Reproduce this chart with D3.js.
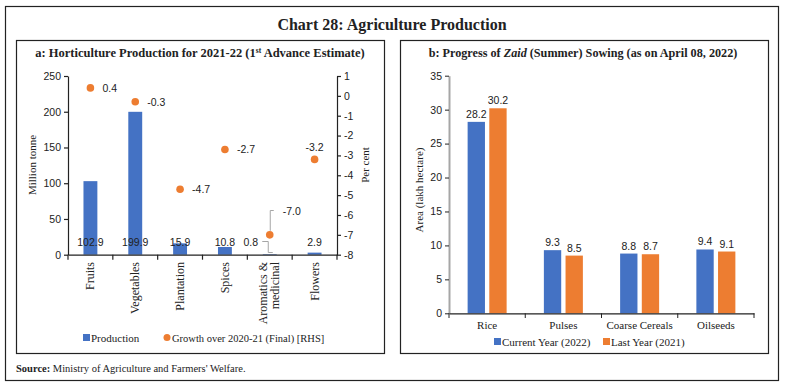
<!doctype html>
<html>
  <head>
    <script src="https://d3js.org/d3.v7.min.js" charset="utf-8"></script>
    <style>
      body { margin: 0; background: #fff; }
      text { fill: #222; }
    </style>
  </head>
  <body>
    <script>

// panel a data
var hortiCats = ["Fruits", "Vegetables", "Plantation", "Spices", "Aromatics &\nmedicinal", "Flowers"];
var production = [102.9, 199.9, 15.9, 10.8, 0.8, 2.9];
var growth = [0.4, -0.3, -4.7, -2.7, -7.0, -3.2];
var leftTicks = [0, 50, 100, 150, 200, 250];
var rightTicks = [1, 0, -1, -2, -3, -4, -5, -6, -7, -8];

// panel b data
var sowCats = ["Rice", "Pulses", "Coarse Cereals", "Oilseeds"];
var sowSeries = ["Current Year (2022)", "Last Year (2021)"];
var currentYear = [28.2, 9.3, 8.8, 9.4];
var lastYear = [30.2, 8.5, 8.7, 9.1];
var areaTicks = [0, 5, 10, 15, 20, 25, 30, 35];

var blue = "#4472C4", orange = "#ED7D31";
var serif = "'Liberation Serif', 'DejaVu Serif', serif";
var sans = "'Liberation Sans', Arial, sans-serif";
var fmt = function(d) { return String(d); }; // plain hyphen minus

var svg = d3.select("body")
  .append("svg")
    .attr("width", 785)
    .attr("height", 387);

// outer frame + panels
svg.append("rect").attr("x", 5.5).attr("y", 6.5).attr("width", 773).attr("height", 374)
  .attr("fill", "none").attr("stroke", "#222").attr("stroke-width", 1.2);
svg.append("rect").attr("x", 16.5).attr("y", 40.5).attr("width", 368).attr("height", 313)
  .attr("fill", "none").attr("stroke", "#222").attr("stroke-width", 1.2);
svg.append("rect").attr("x", 400.5).attr("y", 40.5).attr("width", 368).attr("height", 313)
  .attr("fill", "none").attr("stroke", "#222").attr("stroke-width", 1.2);

svg.append("text").attr("x", 392).attr("y", 30).attr("text-anchor", "middle")
  .style("font-family", serif).style("font-weight", "bold").style("font-size", "16px")
  .text("Chart 28: Agriculture Production");

// ---------- panel a ----------
var ta = svg.append("text").attr("x", 200).attr("y", 57).attr("text-anchor", "middle")
  .style("font-family", serif).style("font-weight", "bold").style("font-size", "12.5px");
ta.append("tspan").text("a: Horticulture Production for 2021-22 (1");
ta.append("tspan").attr("dy", -4).style("font-size", "7.5px").text("st");
ta.append("tspan").attr("dy", 4).text(" Advance Estimate)");

var xa = d3.scaleBand().domain(hortiCats).range([68, 337]);
var yL = d3.scaleLinear().domain([0, 250]).range([254.7, 76]);
var yR = d3.scaleLinear().domain([-8, 1]).range([254.7, 76]);
var barW = xa.bandwidth() * 0.31;

var ga = svg.append("g");

ga.selectAll("rect.prod")
  .data(production)
  .enter()
  .append("rect")
    .attr("x", function(d, i) { return xa(hortiCats[i]) + xa.bandwidth() / 2 - barW / 2; })
    .attr("y", function(d) { return yL(d); })
    .attr("width", barW)
    .attr("height", function(d) { return yL(0) - yL(d); })
    .attr("fill", blue);

// axes
var axL = ga.append("g").attr("transform", "translate(68,0)")
  .call(d3.axisLeft(yL).tickValues(leftTicks).tickSize(4).tickSizeOuter(0).tickFormat(fmt));
var axR = ga.append("g").attr("transform", "translate(337,0)")
  .call(d3.axisRight(yR).tickValues(rightTicks).tickSize(4).tickSizeOuter(0).tickFormat(fmt));
var axB = ga.append("g").attr("transform", "translate(0,254.7)")
  .call(d3.axisBottom(xa).tickSize(5).tickSizeOuter(0).tickFormat(""));
// band boundary ticks
axB.selectAll(".tick").remove();
axB.selectAll("line.bt")
  .data(d3.range(hortiCats.length + 1))
  .enter().append("line")
    .attr("x1", function(i) { return 68 + i * xa.step(); })
    .attr("x2", function(i) { return 68 + i * xa.step(); })
    .attr("y1", 0).attr("y2", 5).attr("stroke", "#222");

[axL, axR, axB].forEach(function(a) {
  a.selectAll("path, line").attr("stroke", "#222").attr("stroke-width", 1.2);
  a.selectAll("text").style("font-family", sans).style("font-size", "10.5px").attr("fill", "#333");
});

// category labels rotated
hortiCats.forEach(function(c, i) {
  var lines = c.split("\n");
  var cx = xa(c) + xa.bandwidth() / 2;
  var t = ga.append("text")
    .attr("transform", "translate(" + cx + ",262) rotate(-90)")
    .attr("text-anchor", "end")
    .style("font-family", serif).style("font-size", "12px");
  lines.forEach(function(l, j) {
    t.append("tspan").attr("x", 0)
      .attr("dy", j === 0 ? (lines.length > 1 ? -2.5 : 4) : 12)
      .text(l);
  });
});

// production labels (sitting at the base)
ga.selectAll("text.plab")
  .data(production)
  .enter()
  .append("text")
    .attr("x", function(d, i) {
      var cx = xa(hortiCats[i]) + xa.bandwidth() / 2;
      return i === 4 ? cx - 19 : cx;
    })
    .attr("y", 246)
    .attr("text-anchor", "middle")
    .style("font-family", sans).style("font-size", "10.5px").attr("fill", "#333")
    .text(function(d) { return d.toFixed(1); });

// leader lines for aromatics
var ax4 = xa(hortiCats[4]) + xa.bandwidth() / 2;
ga.append("path")
  .attr("d", "M" + (ax4 - 7.5) + ",241.5 H" + (ax4 - 1.5) + " V252.5 H" + (ax4 + 3))
  .attr("fill", "none").attr("stroke", "#a6a6a6").attr("stroke-width", 1);
ga.append("path")
  .attr("d", "M" + (ax4 + 4) + ",210.5 H" + (ax4 + 0.5) + " V" + (yR(growth[4]) - 4))
  .attr("fill", "none").attr("stroke", "#a6a6a6").attr("stroke-width", 1);

// growth dots
ga.selectAll("circle.gr")
  .data(growth)
  .enter()
  .append("circle")
    .attr("cx", function(d, i) { return xa(hortiCats[i]) + xa.bandwidth() / 2; })
    .attr("cy", function(d) { return yR(d); })
    .attr("r", 3.8)
    .attr("fill", orange);

ga.selectAll("text.glab")
  .data(growth)
  .enter()
  .append("text")
    .attr("x", function(d, i) {
      var cx = xa(hortiCats[i]) + xa.bandwidth() / 2;
      if (i === 5) return cx;
      if (i === 4) return cx + 13;
      return cx + 12;
    })
    .attr("y", function(d, i) {
      if (i === 5) return yR(d) - 8;
      if (i === 4) return 215;
      return yR(d) + 4;
    })
    .attr("text-anchor", function(d, i) { return i === 5 ? "middle" : "start"; })
    .style("font-family", sans).style("font-size", "10.5px").attr("fill", "#333")
    .text(function(d) { return d.toFixed(1); });

// axis titles
svg.append("text").attr("transform", "translate(36,165) rotate(-90)").attr("text-anchor", "middle")
  .style("font-family", serif).style("font-size", "11px").text("Million tonne");
svg.append("text").attr("transform", "translate(369,165) rotate(-90)").attr("text-anchor", "middle")
  .style("font-family", serif).style("font-size", "11px").text("Per cent");

// legend a
svg.append("rect").attr("x", 83).attr("y", 334).attr("width", 7).attr("height", 7).attr("fill", blue);
svg.append("text").attr("x", 91).attr("y", 341.5)
  .style("font-family", serif).style("font-size", "11px").text("Production");
svg.append("circle").attr("cx", 167).attr("cy", 337.5).attr("r", 3.5).attr("fill", orange);
svg.append("text").attr("x", 172).attr("y", 341.5)
  .style("font-family", serif).style("font-size", "10.5px").text("Growth over 2020-21 (Final) [RHS]");

// ---------- panel b ----------
var tb = svg.append("text").attr("x", 583).attr("y", 57).attr("text-anchor", "middle")
  .style("font-family", serif).style("font-weight", "bold").style("font-size", "12.2px");
tb.append("tspan").text("b: Progress of ");
tb.append("tspan").style("font-style", "italic").text("Zaid");
tb.append("tspan").text(" (Summer) Sowing (as on April 08, 2022)");

var xb = d3.scaleBand().domain(sowCats).range([449, 754]);
var xin = d3.scaleBand().domain(sowSeries).range([-19.5, 19.5]).paddingInner(0.2);
var yb = d3.scaleLinear().domain([0, 35]).range([313.3, 75.7]);
var sowValues = [currentYear, lastYear];
var sowColors = [blue, orange];

var gb = svg.append("g");

sowSeries.forEach(function(s, k) {
  gb.selectAll("rect.s" + k)
    .data(sowValues[k])
    .enter()
    .append("rect")
      .attr("x", function(d, i) { return xb(sowCats[i]) + xb.bandwidth() / 2 + xin(s); })
      .attr("y", function(d) { return yb(d); })
      .attr("width", xin.bandwidth())
      .attr("height", function(d) { return yb(0) - yb(d); })
      .attr("fill", sowColors[k]);
  gb.selectAll("text.s" + k)
    .data(sowValues[k])
    .enter()
    .append("text")
      .attr("x", function(d, i) { return xb(sowCats[i]) + xb.bandwidth() / 2 + xin(s) + xin.bandwidth() / 2; })
      .attr("y", function(d) { return yb(d) - 4; })
      .attr("text-anchor", "middle")
      .style("font-family", sans).style("font-size", "10.5px").attr("fill", "#333")
      .text(function(d) { return d.toFixed(1); });
});

var byAx = gb.append("g").attr("transform", "translate(449,0)")
  .call(d3.axisLeft(yb).tickValues(areaTicks).tickSize(4).tickSizeOuter(0).tickFormat(fmt));
byAx.select("path").attr("stroke", "#a6a6a6").attr("stroke-width", 2);
byAx.selectAll("line").attr("stroke", "#222");
byAx.selectAll("text").style("font-family", sans).style("font-size", "10.5px").attr("fill", "#333");

var bxAx = gb.append("g").attr("transform", "translate(0,313.3)")
  .call(d3.axisBottom(xb).tickSize(0).tickSizeOuter(0));
bxAx.select("path").attr("stroke", "#222").attr("stroke-width", 1.2);
bxAx.selectAll("text").attr("dy", "1.15em")
  .style("font-family", serif).style("font-size", "11px").attr("fill", "#222");
gb.selectAll("line.bbt")
  .data(d3.range(sowCats.length + 1))
  .enter().append("line")
    .attr("x1", function(i) { return 449 + i * xb.step(); })
    .attr("x2", function(i) { return 449 + i * xb.step(); })
    .attr("y1", 313.3).attr("y2", 318).attr("stroke", "#222");

svg.append("text").attr("transform", "translate(423,190) rotate(-90)").attr("text-anchor", "middle")
  .style("font-family", serif).style("font-size", "11px").text("Area (lakh hectare)");

// legend b
sowSeries.forEach(function(s, k) {
  var lx = [494, 603][k];
  svg.append("rect").attr("x", lx).attr("y", 338).attr("width", 7).attr("height", 7).attr("fill", sowColors[k]);
  svg.append("text").attr("x", lx + 8).attr("y", 345.5)
    .style("font-family", serif).style("font-size", "11px").text(s);
});

// source
var src = svg.append("text").attr("x", 16).attr("y", 372)
  .style("font-family", serif).style("font-size", "10.5px");
src.append("tspan").style("font-weight", "bold").text("Source:");
src.append("tspan").text(" Ministry of Agriculture and Farmers' Welfare.");

    </script>
  </body>
</html>
